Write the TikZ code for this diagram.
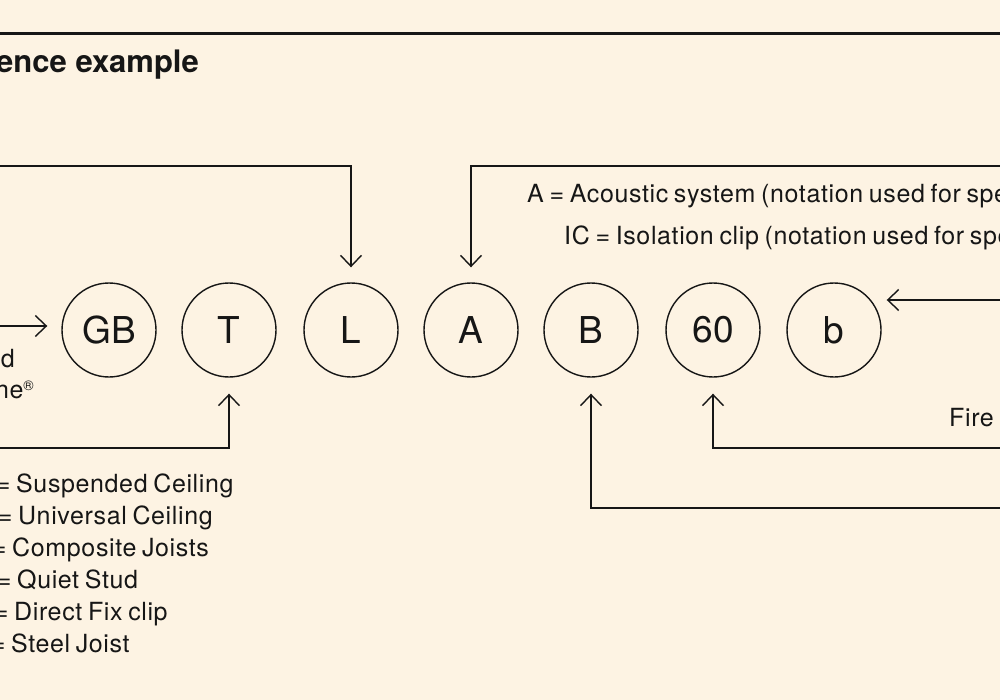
\documentclass[tikz,border=0pt]{standalone}
\usepackage{fontspec}
\setmainfont{TeX Gyre Heros}
\newfontfamily\lblfont[LetterSpace=2.5,WordSpace=0.75]{TeX Gyre Heros}
\usetikzlibrary{arrows.meta}
\definecolor{bg}{RGB}{253,243,227}
\definecolor{ink}{RGB}{22,22,22}
\begin{document}
\begin{tikzpicture}[x=1pt,y=-1pt,
  circ/.style={circle,draw=ink,text=ink,minimum size=94pt,inner sep=0pt,line width=1.4pt,font=\fontsize{37}{37}\selectfont},
  conn/.style={draw=ink,line width=1.4pt,-{Straight Barb[length=11pt,width=21pt,line width=1.4pt]}},
  lbl/.style={inner sep=0pt,text=ink,font=\lblfont\fontsize{25}{25}\selectfont},
  ttl/.style={inner sep=0pt,text=ink,font=\fontsize{31}{31}\selectfont\bfseries}]
\useasboundingbox (0,0) rectangle (1000,700);
\clip (0,0) rectangle (1000,700);
\fill[bg] (0,0) rectangle (1000,700);
% top rule
\coordinate (ruleL) at (0,34);
\coordinate (ruleR) at (1000,34);
\draw[ink,line width=3pt] (ruleL) -- (ruleR);
\node[ttl,anchor=base east] (title) at (199,73) {ence example};
% circles
\node[circ] (gb) at (109,330) {GB};
\node[circ] (t) at (229,330) {T};
\node[circ] (l) at (351,330) {L};
\node[circ] (a) at (471,330) {A};
\node[circ] (bb) at (591,330) {B};
\node[circ] (six) at (713,330) {60};
\node[circ] (b) at (834,330) {b};
% connectors
\coordinate (lstart) at (0,166);
\draw[conn] (lstart) -- (lstart -| l) -- ([yshift=15pt]l.north);
\coordinate (astart) at (1000,166);
\draw[conn] (astart) -- (astart -| a) -- ([yshift=15pt]a.north);
\coordinate (gbstart) at (0,326);
\draw[conn] (gbstart) -- ([xshift=-14pt]gb.west |- gbstart);
\coordinate (tstart) at (0,448);
\draw[conn] (tstart) -- (tstart -| t) -- ([yshift=-16pt]t.south);
\coordinate (bstart) at (1000,300);
\draw[conn] (bstart) -- ([xshift=5pt]b.east |- bstart);
\coordinate (sixstart) at (1000,448);
\draw[conn] (sixstart) -- (sixstart -| six) -- ([yshift=-16pt]six.south);
\coordinate (bbstart) at (1000,508);
\draw[conn] (bbstart) -- (bbstart -| bb) -- ([yshift=-16pt]bb.south);
% labels
\node[lbl,anchor=base west] (acou) at (527,203) {A = Acoustic system (notation used for spe};
\node[lbl,anchor=base west] (iso) at (564,245) {IC = Isolation clip (notation used for spe};
\node[lbl,anchor=base west] (fire) at (949,426) {Fire};
\node[lbl,anchor=base east] (ld) at (15,367) {d};
\node[lbl,anchor=base east] (lne) at (34,398) {ne\raisebox{8pt}{\fontsize{14}{14}\selectfont ®}};
\node[lbl,anchor=base west] (s1) at (16,492) {\llap{= }Suspended Ceiling};
\node[lbl,anchor=base west] (s2) at (18,524) {\llap{= }Universal Ceiling};
\node[lbl,anchor=base west] (s3) at (12,556) {\llap{= }Composite Joists};
\node[lbl,anchor=base west] (s4) at (17,588) {\llap{= }Quiet Stud};
\node[lbl,anchor=base west] (s5) at (14,620) {\llap{= }Direct Fix clip};
\node[lbl,anchor=base west] (s6) at (11,652) {\llap{= }Steel Joist};
\end{tikzpicture}
\end{document}
